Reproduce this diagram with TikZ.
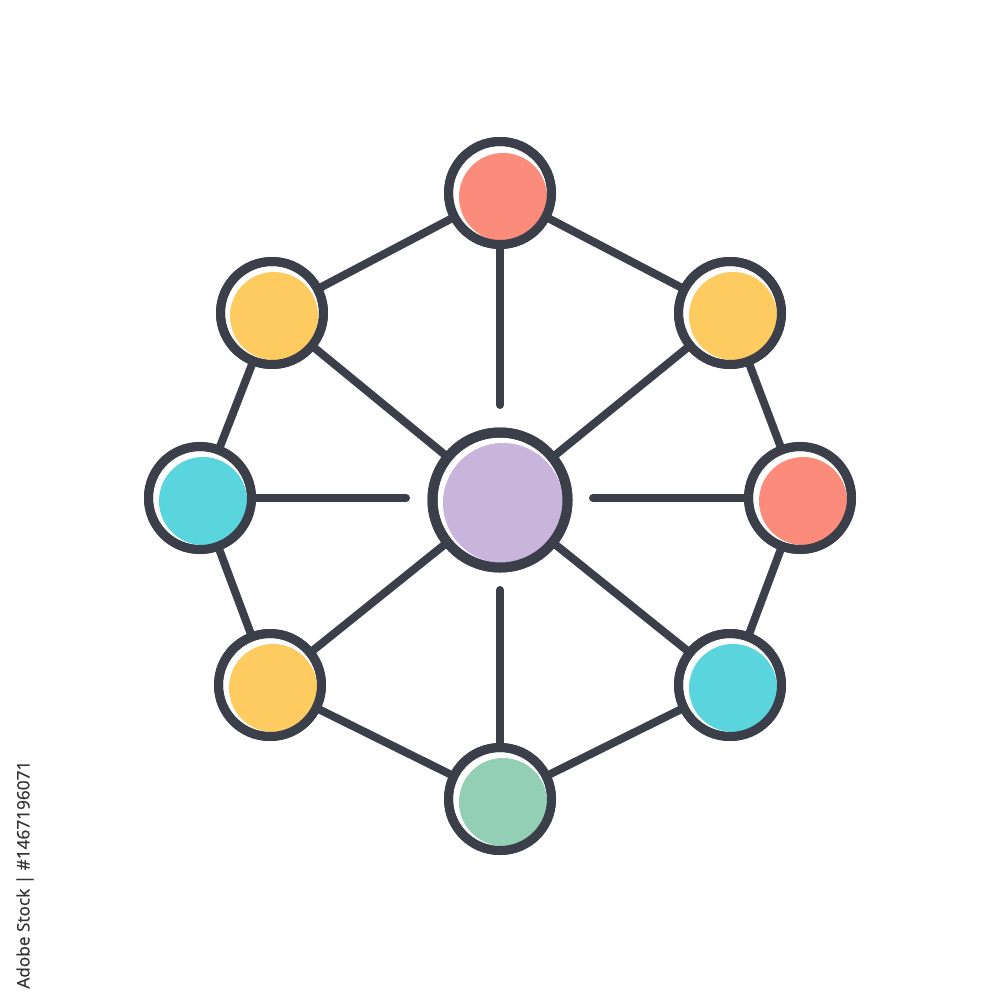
\documentclass[tikz,border=0pt]{standalone}
\usepackage{fontspec}
\newfontfamily\wmfont[FakeBold=0.6]{Open Sans}
\definecolor{ink}{HTML}{3B3F4A}
\definecolor{salmon}{HTML}{FB8B7A}
\definecolor{sun}{HTML}{FDCB5F}
\definecolor{aqua}{HTML}{5AD5DE}
\definecolor{mint}{HTML}{93CFB5}
\definecolor{lilac}{HTML}{C9B5DC}
\definecolor{wm}{HTML}{333333}
\tikzset{
  edge/.style={draw=ink, line width=8*0.01cm, line cap=round},
  outer/.style={circle, draw=ink, line width=9*0.01cm, fill=white, minimum size=103*0.01cm, inner sep=0pt},
  hub/.style={circle, draw=ink, line width=10*0.01cm, fill=white, minimum size=135*0.01cm, inner sep=0pt},
}
\begin{document}
\begin{tikzpicture}[x=0.01cm, y=-0.01cm]
\useasboundingbox (0,0) rectangle (1000,1000);
% positions
\coordinate (pT) at (500,193);
\coordinate (pUL) at (272,313);
\coordinate (pUR) at (730,313);
\coordinate (pL) at (200,498);
\coordinate (pR) at (800,498);
\coordinate (pLL) at (270,685);
\coordinate (pLR) at (730,685);
\coordinate (pB) at (500,799);
\coordinate (pC) at (500,500);
% spoke free ends
\coordinate (sT) at (500,405);
\coordinate (sB) at (500,590);
\coordinate (sL) at (406,498);
\coordinate (sR) at (593,498);
% edges
\draw[edge] (pT) -- (pUL) -- (pL) -- (pLL) -- (pB) -- (pLR) -- (pR) -- (pUR) -- cycle;
\draw[edge] (pUL) -- (pC) -- (pLR);
\draw[edge] (pUR) -- (pC) -- (pLL);
\draw[edge] (pT) -- (sT);
\draw[edge] (pB) -- (sB);
\draw[edge] (pL) -- (sL);
\draw[edge] (pR) -- (sR);
% nodes (white base + ring)
\node[hub] (C) at (pC) {};
\foreach \n in {T,UL,UR,L,R,LL,LR,B} { \node[outer] (\n) at (p\n) {}; }
% colour fills, offset slightly down-right
\fill[lilac] ([shift={(3,3)}]C.center) circle (60);
\fill[salmon] ([shift={(3,4)}]T.center) circle (44);
\fill[sun] ([shift={(2,3)}]UL.center) circle (44);
\fill[sun] ([shift={(3,3)}]UR.center) circle (44);
\fill[aqua] ([shift={(3,3)}]L.center) circle (44);
\fill[salmon] ([shift={(3,3)}]R.center) circle (44);
\fill[sun] ([shift={(3,3)}]LL.center) circle (44);
\fill[aqua] ([shift={(3,3)}]LR.center) circle (44);
\fill[mint] ([shift={(3,3)}]B.center) circle (44);
% rings redrawn on top
\draw[ink, line width=10*0.01cm] (C.center) circle (67.5);
\foreach \n in {T,UL,UR,L,R,LL,LR,B} { \draw[ink, line width=9*0.01cm] (\n.center) circle (51.5); }
% vertical id text
\node[rotate=90, anchor=east, inner sep=0pt, text=wm, font=\wmfont\fontsize{4.9}{6}\selectfont] (wmark) at (25,760) {Adobe Stock | \#1467196071};
\end{tikzpicture}
\end{document}
